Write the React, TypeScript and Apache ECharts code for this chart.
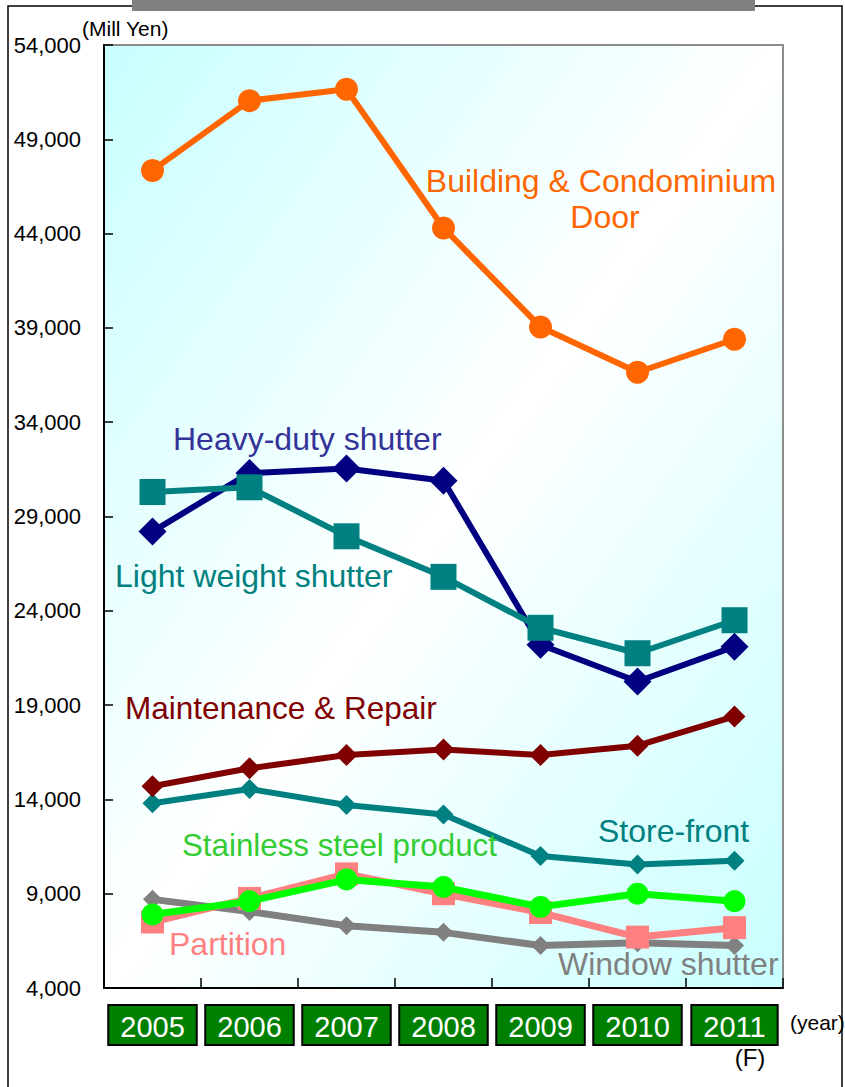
import React, { useEffect, useRef } from "react";
import * as echarts from "echarts";

const years = ["2005", "2006", "2007", "2008", "2009", "2010", "2011"];
const buildingDoor = [47350, 51050, 51650, 44300, 39050, 36650, 38400];
const heavyDuty = [28200, 31300, 31550, 30900, 22200, 20250, 22100];
const lightWeight = [30300, 30550, 27950, 25800, 23100, 21750, 23500];
const maintenance = [14700, 15650, 16350, 16650, 16350, 16850, 18400];
const storeFront = [13800, 14550, 13700, 13200, 11000, 10550, 10750];
const stainless = [7900, 8600, 9750, 9350, 8300, 9000, 8600];
const partition = [7500, 8750, 10050, 9000, 8000, 6700, 7200];
const windowShutter = [8700, 8050, 7300, 6950, 6250, 6400, 6250];
const yTicks = [4000, 9000, 14000, 19000, 24000, 29000, 34000, 39000, 44000, 49000, 54000];

const FONT = '"Liberation Sans", Arial, sans-serif';

function label(text: string, x: number, y: number, color: string, align = "left", size = 32) {
  return {
    type: "text",
    x,
    y,
    z: 50,
    style: {
      text,
      fill: color,
      font: `${size}px ${FONT}`,
      align,
      verticalAlign: "middle",
    },
  };
}

export default function App() {
  const ref = useRef<HTMLDivElement>(null);
  useEffect(() => {
    if (!ref.current) return;
    const chart = echarts.init(ref.current, null, { renderer: "svg" });
    const line = (
      name: string,
      data: number[],
      color: string,
      symbol: string,
      size: number,
      width: number,
      z: number
    ) => ({
      name,
      type: "line",
      data,
      z,
      symbol,
      symbolSize: size,
      showSymbol: true,
      lineStyle: { color, width },
      itemStyle: { color, opacity: 1 },
      emphasis: { disabled: true },
    });
    chart.setOption({
      animation: false,
      backgroundColor: "#ffffff",
      grid: {
        left: 104,
        top: 45,
        width: 679,
        height: 943,
        show: true,
        borderColor: "#8c8c8c",
        borderWidth: 2,
        backgroundColor: new echarts.graphic.LinearGradient(0, 0, 1, 1, [
          { offset: 0, color: "#c8ffff" },
          { offset: 0.5, color: "#ffffff" },
          { offset: 1, color: "#c8ffff" },
        ]),
      },
      xAxis: {
        type: "category",
        data: years,
        boundaryGap: true,
        axisLine: { lineStyle: { color: "#000", width: 2 } },
        axisTick: { show: true, inside: true, length: 10, lineStyle: { color: "#000", width: 1.5 } },
        axisLabel: {
          margin: 18,
          color: "#ffffff",
          fontFamily: FONT,
          fontSize: 29,
          lineHeight: 30,
          backgroundColor: "#008000",
          borderColor: "#000",
          borderWidth: 2,
          padding: [6, 11, 2, 11],
        },
        splitLine: { show: false },
      },
      yAxis: {
        type: "value",
        min: 4000,
        max: 54000,
        axisLine: { show: true, lineStyle: { color: "#000", width: 2 } },
        axisTick: {
          show: true,
          inside: true,
          length: 9,
          customValues: yTicks,
          lineStyle: { color: "#000", width: 1.5 },
        },
        axisLabel: {
          customValues: yTicks,
          margin: 23,
          color: "#000",
          fontFamily: FONT,
          fontSize: 22,
          formatter: (v: number) => v.toLocaleString("en-US"),
        },
        splitLine: { show: false },
      },
      series: [
        line("Window shutter", windowShutter, "#808080", "diamond", 19, 7, 2),
        line("Partition", partition, "#ff8080", "rect", 23, 7, 3),
        line("Stainless steel product", stainless, "#00ff00", "circle", 22, 7, 4),
        line("Store-front", storeFront, "#008080", "diamond", 20, 6, 5),
        line("Maintenance & Repair", maintenance, "#800000", "diamond", 22, 6, 6),
        line("Heavy-duty shutter", heavyDuty, "#000080", "diamond", 28, 6, 7),
        line("Light weight shutter", lightWeight, "#008080", "rect", 26, 6, 8),
        line("Building & Condominium Door", buildingDoor, "#ff6600", "circle", 23, 6, 9),
      ],
      graphic: [
        {
          type: "rect",
          z: 0,
          silent: true,
          shape: { x: 8, y: 6, width: 834, height: 1100 },
          style: { fill: "none", stroke: "#000", lineWidth: 1.5 },
        },
        {
          type: "rect",
          z: 1,
          silent: true,
          shape: { x: 132, y: 0, width: 623, height: 11 },
          style: { fill: "#808080" },
        },
        {
          type: "text",
          x: 82,
          y: 28,
          style: { text: "(Mill Yen)", fill: "#000", font: `21px ${FONT}`, align: "left", verticalAlign: "middle" },
        },
        {
          type: "text",
          x: 790,
          y: 1022,
          style: { text: "(year)", fill: "#000", font: `21px ${FONT}`, align: "left", verticalAlign: "middle" },
        },
        {
          type: "text",
          x: 750,
          y: 1057,
          style: { text: "(F)", fill: "#000", font: `24px ${FONT}`, align: "center", verticalAlign: "middle" },
        },
        label("Building & Condominium", 601, 181, "#ff6600", "center"),
        label("Door", 605, 217, "#ff6600", "center"),
        label("Heavy-duty shutter", 173, 439, "#333399"),
        label("Light weight shutter", 115, 576, "#008080"),
        label("Maintenance & Repair", 125, 708, "#800000", "left", 31.5),
        label("Store-front", 598, 831, "#008080"),
        label("Stainless steel product", 182, 845, "#33cc33", "left", 31.3),
        label("Partition", 169, 944, "#ff8080"),
        label("Window shutter", 558, 964, "#808080"),
      ],
    });
    return () => chart.dispose();
  }, []);
  return (
    <div
      ref={ref}
      style={{ position: "absolute", left: 0, top: 0, width: 845, height: 1087 }}
    />
  );
}
